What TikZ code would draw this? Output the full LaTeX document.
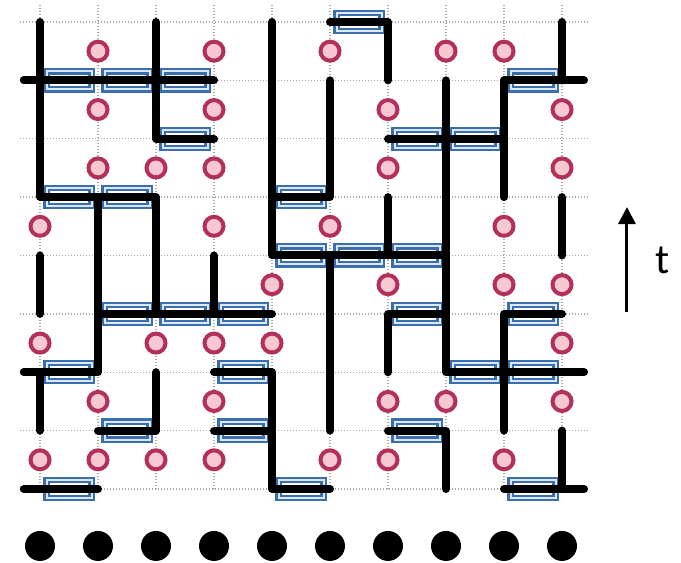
\documentclass[tikz,border=0pt]{standalone}
\usepackage{fontspec}
\newfontfamily\labelfont{Carlito}
\usetikzlibrary{arrows.meta}
\definecolor{gateblue}{HTML}{3A6EAC}
\definecolor{gatelight}{HTML}{DDE8F5}
\definecolor{ringred}{HTML}{B2305A}
\definecolor{ringfill}{HTML}{F5C8D2}
\definecolor{gridgray}{HTML}{A8A8A8}
\tikzset{
  gridline/.style={gridgray, line width=1.3pt, dash pattern=on 1.3pt off 1.7pt},
  worldline/.style={black, line width=8pt, line cap=round, line join=round},
  gatebox/.style={rectangle, draw=gateblue, double=gatelight, double distance=2pt,
    line width=2.2pt, fill=white, minimum width=45pt, minimum height=18pt, inner sep=0pt},
  ring/.style={circle, draw=ringred, line width=4pt, fill=ringfill,
    minimum size=19pt, inner sep=0pt},
  site/.style={circle, fill=black, minimum size=30pt, inner sep=0pt},
  timearrow/.style={black, line width=3pt, -{Triangle[length=17pt,width=17pt]}},
}
\begin{document}
\begin{tikzpicture}[x=58pt, y=58.375pt]
\useasboundingbox (-0.6897,-1.2677) rectangle (11.0517,8.3769);
% grid points
\foreach \i in {0,...,9} {
  \foreach \j in {0,...,8} {
    \coordinate (p\i-\j) at (\i,\j);
  }
}
\foreach \j in {0,...,8} {
  \coordinate (gl\j) at (-0.345,\j);
  \coordinate (gr\j) at (9.448,\j);
}
\foreach \i in {0,...,9} {
  \coordinate (gt\i) at (\i,8.29);
}
\foreach \j in {0,2,7} {
  \coordinate (L\j) at (-0.28,\j);
  \coordinate (R\j) at (9.38,\j);
}
% dotted grid
\foreach \j in {0,...,8} { \draw[gridline] (gl\j) -- (gr\j); }
\foreach \i in {0,...,9} { \draw[gridline] (p\i-0) -- (gt\i); }
% rings
\foreach \r/\cs in {7/{1,3,5,7,8}, 6/{1,3,6,9}, 5/{1,2,3,6,9}, 4/{0,3,5,8},
                    3/{4,6,8,9}, 2/{0,2,3,4,9}, 1/{1,3,6,7,9}, 0/{0,1,2,3,5,6,8}} {
  \foreach \c in \cs {
    \node[ring] (c\c-\r) at (\c,\r+0.5) {};
  }
}
% gates
\foreach \r/\cs in {8/{5}, 7/{0,1,2,8}, 6/{2,6,7}, 5/{0,1,4}, 4/{4,5,6},
                    3/{1,2,3,6,8}, 2/{0,3,7,8}, 1/{1,3,6}, 0/{0,4,8}} {
  \foreach \c in \cs {
    \node[gatebox] (g\c-\r) at (\c+0.5,\r) {};
  }
}
% world lines
\draw[worldline] (L7) -- (p3-7);
\draw[worldline] (p0-8) -- (p0-5) -- (p2-5) -- (p2-3);
\draw[worldline] (p2-8) -- (p2-6) -- (p3-6);
\draw[worldline] (p4-8) -- (p4-4) -- (p7-4);
\draw[worldline] (p4-5) -- (p5-5) -- (p5-7);
\draw[worldline] (p5-8) -- (p6-8) -- (p6-7);
\draw[worldline] (p9-8) -- (p9-7);
\draw[worldline] (p8-5) -- (p8-7) -- (R7);
\draw[worldline] (p6-6) -- (p8-6);
\draw[worldline] (p7-7) -- (p7-2) -- (R2);
\draw[worldline] (p6-5) -- (p6-4);
\draw[worldline] (p9-5) -- (p9-4);
\draw[worldline] (p1-5) -- (p1-2) -- (L2);
\draw[worldline] (p1-3) -- (p4-3);
\draw[worldline] (p0-4) -- (p0-3);
\draw[worldline] (p3-4) -- (p3-3);
\draw[worldline] (p5-4) -- (p5-1);
\draw[worldline] (p6-2) -- (p6-3) -- (p7-3);
\draw[worldline] (p9-3) -- (p8-3) -- (p8-1);
\draw[worldline] (p0-2) -- (p0-1);
\draw[worldline] (p1-1) -- (p2-1) -- (p2-2);
\draw[worldline] (p3-2) -- (p4-2) -- (p4-0) -- (p5-0);
\draw[worldline] (p3-1) -- (p4-1);
\draw[worldline] (p6-1) -- (p7-1) -- (p7-0);
\draw[worldline] (p9-1) -- (p9-0);
\draw[worldline] (p8-0) -- (R0);
\draw[worldline] (L0) -- (p1-0);
% sites
\foreach \i in {0,...,9} { \node[site] (d\i) at (\i,-0.976) {}; }
% time arrow
\coordinate (ta) at (10.12,3.03);
\coordinate (tb) at (10.12,4.83);
\draw[timearrow] (ta) -- (tb);
\node[font=\labelfont\fontsize{42}{42}\selectfont, inner sep=0pt] (tl) at (10.73,3.92) {t};
\end{tikzpicture}
\end{document}
